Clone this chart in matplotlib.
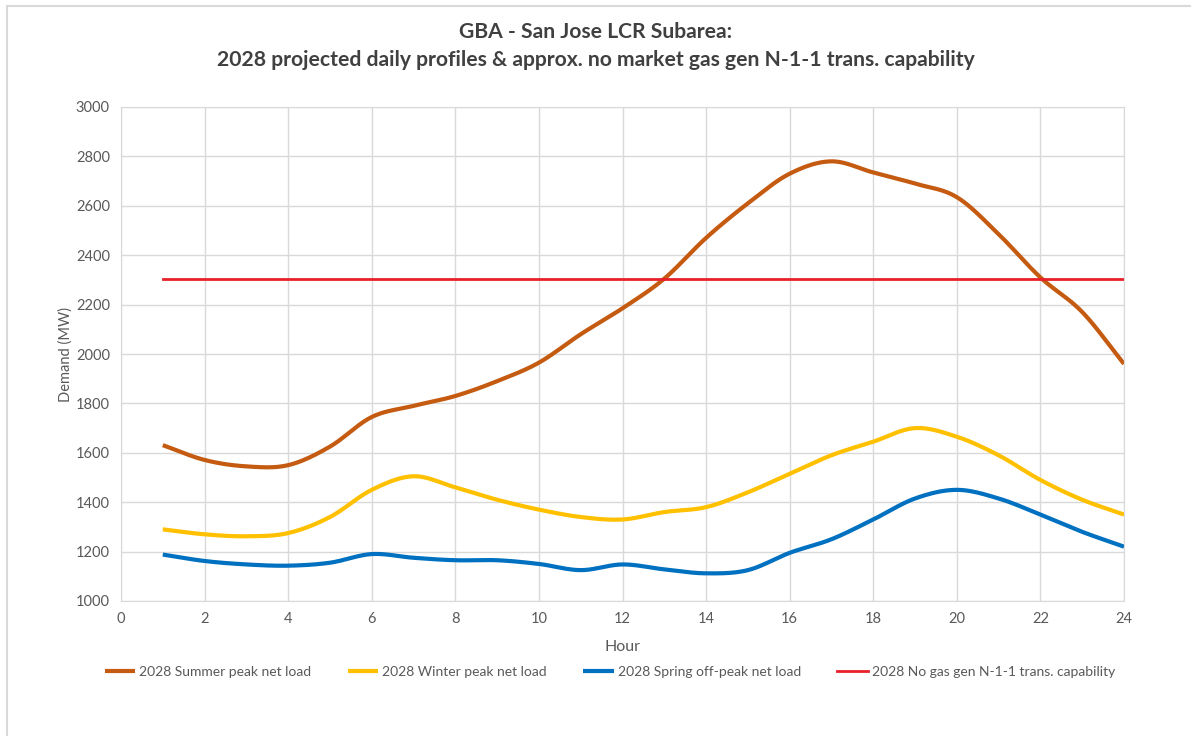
import numpy as np
import matplotlib.pyplot as plt
from matplotlib.patches import Rectangle

plt.rcParams['font.family'] = ['Lato', 'DejaVu Sans']

hours = list(range(1, 25))
summer = [1631, 1571, 1545, 1550, 1625, 1745, 1790, 1830, 1890, 1965, 2080, 2185,
          2305, 2470, 2610, 2730, 2780, 2735, 2690, 2635, 2485, 2310, 2170, 1960]
winter = [1290, 1270, 1262, 1275, 1340, 1450, 1505, 1460, 1410, 1370, 1340, 1330,
          1360, 1380, 1440, 1515, 1590, 1645, 1700, 1665, 1590, 1490, 1410, 1350]
spring = [1188, 1162, 1148, 1143, 1155, 1190, 1175, 1165, 1165, 1150, 1125, 1148,
          1128, 1112, 1125, 1195, 1250, 1330, 1415, 1450, 1415, 1350, 1280, 1220]
capability = [2305] * 24

labels = ['2028 Summer peak net load', '2028 Winter peak net load',
          '2028 Spring off-peak net load', '2028 No gas gen N-1-1 trans. capability']
colors = ['#C55A11', '#FFC000', '#0070C0', '#E8202A']


def smooth(x, y, n=20):
    # Catmull-Rom curve through every point, like a spreadsheet "smoothed line"
    x = np.asarray(x, float)
    y = np.asarray(y, float)
    px = np.concatenate([[2 * x[0] - x[1]], x, [2 * x[-1] - x[-2]]])
    py = np.concatenate([[2 * y[0] - y[1]], y, [2 * y[-1] - y[-2]]])
    t = np.linspace(0, 1, n, endpoint=False)[:, None]
    out_x, out_y = [], []
    for i in range(1, len(px) - 2):
        for arr, p in ((out_x, px), (out_y, py)):
            p0, p1, p2, p3 = p[i - 1], p[i], p[i + 1], p[i + 2]
            seg = 0.5 * (2 * p1 + (-p0 + p2) * t + (2 * p0 - 5 * p1 + 4 * p2 - p3) * t ** 2
                         + (-p0 + 3 * p1 - 3 * p2 + p3) * t ** 3)
            arr.extend(seg.ravel())
    out_x.append(x[-1])
    out_y.append(y[-1])
    return out_x, out_y


fig = plt.figure(figsize=(11.91, 7.36), dpi=100)
fig.patches.append(Rectangle((7 / 1191, -0.1), 1.2, 1.1 - 6 / 736, transform=fig.transFigure,
                             fill=False, edgecolor='#d9d9d9', linewidth=1.5))
ax = fig.add_axes([121 / 1191, 1 - 601 / 736, 1003 / 1191, 494 / 736])

for series, color, label in zip([summer, winter, spring], colors[:3], labels[:3]):
    sx, sy = smooth(hours, series)
    ax.plot(sx, sy, color=color, linewidth=3, label=label, solid_capstyle='butt')
ax.plot(hours, capability, color=colors[3], linewidth=2, label=labels[3])

ax.set_xlim(0, 24)
ax.set_ylim(1000, 3000)
ax.set_xticks(range(0, 25, 2))
ax.set_yticks(range(1000, 3001, 200))
ax.grid(True, color='#d9d9d9', linewidth=1)
ax.set_axisbelow(True)
for s in ax.spines.values():
    s.set_color('#d9d9d9')
ax.tick_params(length=0, labelsize=10.5, colors='#595959', pad=8)
ax.set_xlabel('Hour', fontsize=11.5, color='#595959', labelpad=10)
ax.set_ylabel('Demand (MW)', fontsize=10.5, color='#595959', labelpad=2)

fig.text(0.5, 1 - 32 / 736, 'GBA - San Jose LCR Subarea:', ha='center', va='center',
         fontsize=15.2, fontweight='bold', color='#404040')
fig.text(0.5, 1 - 60 / 736,
         '2028 projected daily profiles & approx. no market gas gen N-1-1 trans. capability',
         ha='center', va='center', fontsize=15.2, fontweight='bold', color='#404040')

handles, labs = ax.get_legend_handles_labels()
fig.legend(handles, labs, loc='center', bbox_to_anchor=(0.512, 1 - 672 / 736), ncol=4,
           frameon=False, fontsize=10, labelcolor='#595959', handlelength=2.2,
           handletextpad=0.3, columnspacing=2.6)

fig.savefig('out.png', dpi=100, facecolor='white')
